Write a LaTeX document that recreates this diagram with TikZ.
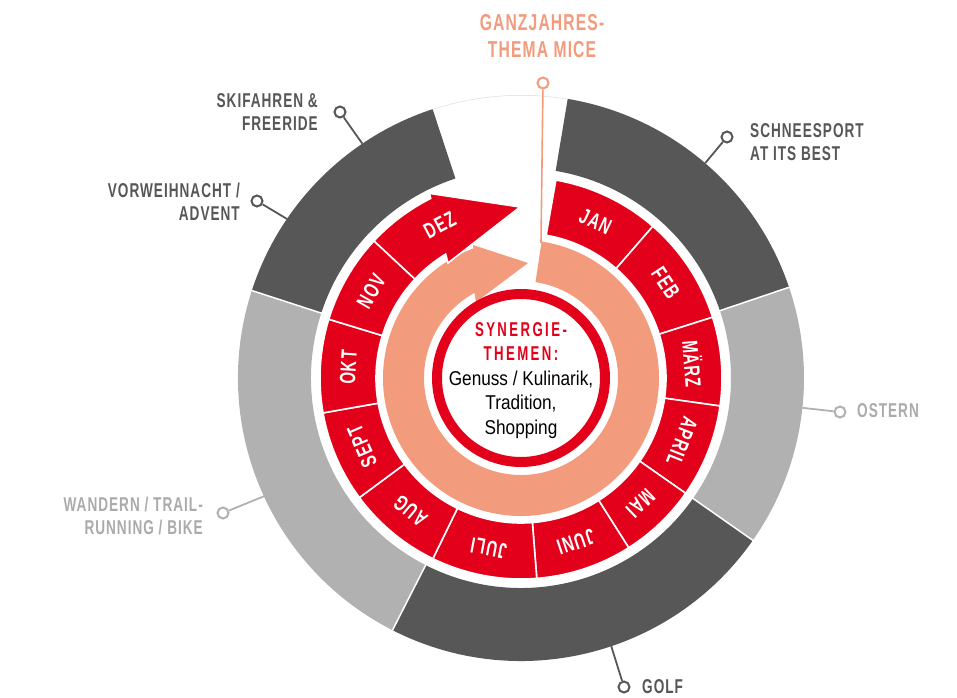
\documentclass[tikz,border=0pt]{standalone}
\usepackage{fontspec}
\newfontfamily\lblfont[FakeStretch=0.68,LetterSpace=5]{Liberation Sans}
\newfontfamily\monfont[FakeStretch=0.68,LetterSpace=6]{Liberation Sans}
\newfontfamily\hdfont[FakeStretch=0.66,LetterSpace=12]{Liberation Sans}
\newfontfamily\bodyfont[FakeStretch=0.86]{Liberation Sans}
\definecolor{dgray}{HTML}{575757}
\definecolor{lgray}{HTML}{B1B1B1}
\definecolor{lblgray}{HTML}{ABABAB}
\definecolor{mred}{HTML}{E2001A}
\definecolor{salmon}{HTML}{F29B7D}
\newcommand\annseg[5]{\fill[#1] (#2:#4pt) arc[start angle=#2,end angle=#3,radius=#4pt] -- (#3:#5pt) arc[start angle=#3,end angle=#2,radius=#5pt] -- cycle;}
\newcommand\monseg[2]{\filldraw[mred,draw=white,line width=1.6pt] (#1:201pt) arc[start angle=#1,end angle=#2,radius=201pt] -- (#2:145pt) arc[start angle=#2,end angle=#1,radius=145pt] -- cycle;}
\tikzset{
  lbl/.style={font=\lblfont\bfseries\fontsize{20}{23}\selectfont, inner sep=0pt},
  lblbig/.style={font=\lblfont\bfseries\fontsize{23}{27}\selectfont, inner sep=0pt},
  mon/.style={font=\monfont\bfseries\fontsize{22}{24}\selectfont, text=white, inner sep=0pt, anchor=center},
  mk/.style={circle, minimum size=11pt, inner sep=0pt, line width=2pt, fill=white, draw=#1},
  ptr/.style={line width=1.8pt, draw=#1},
}
\begin{document}
\begin{tikzpicture}
\useasboundingbox (-521pt,-319pt) rectangle (436pt,378pt);
\fill[white] (-521pt,-319pt) rectangle (436pt,378pt);
% outer ring
\annseg{dgray}{80.5}{18.7}{283}{210}
\annseg{lgray}{18.7}{-35}{283}{210}
\annseg{dgray}{-35}{-117}{283}{210}
\annseg{lgray}{-117}{-198}{283}{210}
\annseg{dgray}{162}{108.2}{283}{210}
\foreach \a in {18.7,-35,-117,162} \draw[white,line width=1.5pt] (\a:205pt) -- (\a:290pt);
\draw[lgray!45,line width=0.5pt] (108.2:282.7pt) arc[start angle=108.2,end angle=80.5,radius=282.7pt];
% salmon arrow
\fill[salmon] (81.4:138pt) arc[start angle=81.4,end angle=-249.8,radius=138pt] -- (-48pt,133pt) -- (7pt,115pt) -- (-45pt,76pt) -- (-241.35:97pt) arc[start angle=-241.35,end angle=81.4,radius=97pt] -- cycle;
% months
\monseg{80}{49}
\monseg{49}{17.6}
\monseg{17.6}{-8}
\monseg{-8}{-35}
\monseg{-35}{-57.6}
\monseg{-57.6}{-85.5}
\monseg{-85.5}{-116}
\monseg{-116}{-143.5}
\monseg{-143.5}{-170}
\monseg{-170}{-197}
\monseg{163}{137}
\filldraw[mred,draw=white,line width=1.6pt] (137:201pt) arc[start angle=137,end angle=116.7,radius=201pt] -- (-91.6pt,184.6pt) -- (-1pt,171pt) -- (-73pt,115pt) -- (121.3:145pt) arc[start angle=121.3,end angle=137,radius=145pt] -- cycle;
% month labels
\node[mon, rotate=-25.5] (jan) at (64.5:173pt) {JAN};
\node[mon, rotate=-56.7] (feb) at (33.3:173pt) {FEB};
\node[mon, rotate=-85.3] (mar) at (4.7:173pt) {MÄRZ};
\node[mon, rotate=-111.5] (apr) at (-21.5:173pt) {APRIL};
\node[mon, rotate=-136.3] (mai) at (-46.3:173pt) {MAI};
\node[mon, rotate=-161.5] (jun) at (-71.5:173pt) {JUNI};
\node[mon, rotate=-190.75] (jul) at (-100.75:173pt) {JULI};
\node[mon, rotate=-219.75] (aug) at (-129.75:173pt) {AUG};
\node[mon, rotate=-246.75] (sep) at (-156.75:173pt) {SEPT};
\node[mon, rotate=86.5] (okt) at (176.5:173pt) {OKT};
\node[mon, rotate=60] (nov) at (150:173pt) {NOV};
\node[mon, rotate=28] (dez) at (118:173pt) {DEZ};
% central circle
\filldraw[fill=white,draw=mred,line width=10pt] (0,0) circle[radius=84pt];
\node[align=center, anchor=north, inner sep=0pt, font=\fontsize{20}{24.5}\selectfont] (center) at (0pt,56pt)
  {{\hdfont\bfseries\color{mred}SYNERGIE-}\\{\hdfont\bfseries\color{mred}THEMEN:}\\{\bodyfont Genuss / Kulinarik,}\\{\bodyfont Tradition,}\\{\bodyfont Shopping}};
% labels
\node[lblbig, text=salmon, align=center, anchor=north] (micelbl) at (21pt,364pt) {GANZJAHRES-\\THEMA MICE};
\node[lbl, text=dgray, align=right, anchor=north east] (skilbl) at (-203pt,285pt) {SKIFAHREN \&\\FREERIDE};
\node[lbl, text=dgray, align=right, anchor=north east] (vorlbl) at (-281pt,195pt) {VORWEIHNACHT /\\ADVENT};
\node[lbl, text=dgray, align=left, anchor=north west] (schlbl) at (229pt,255pt) {SCHNEESPORT\\AT ITS BEST};
\node[lbl, text=lblgray, align=left, anchor=north west] (ostlbl) at (336pt,-25pt) {OSTERN};
\node[lbl, text=lblgray, align=right, anchor=north east] (wanlbl) at (-318pt,-119pt) {WANDERN / TRAIL-\\RUNNING / BIKE};
\node[lbl, text=dgray, align=left, anchor=north west] (golflbl) at (121pt,-301pt) {GOLF};
% pointers
\coordinate (emice) at (20pt,135pt);
\coordinate (eski) at (124.1:283pt);
\coordinate (evor) at (145.8:283pt);
\coordinate (esch) at (49.4:283pt);
\coordinate (eost) at (-6.05:283pt);
\coordinate (ewan) at (-155.3:283pt);
\coordinate (egolf) at (-71.4:283pt);
\node[mk=salmon] (mmice) at (22pt,295pt) {};
\node[mk=dgray] (mski) at (-181pt,266pt) {};
\node[mk=dgray] (mvor) at (-264pt,177pt) {};
\node[mk=dgray] (msch) at (206pt,241pt) {};
\node[mk=lgray] (most) at (319pt,-34pt) {};
\node[mk=lgray] (mwan) at (-298pt,-135pt) {};
\node[mk=dgray] (mgolf) at (103pt,-309pt) {};
\draw[ptr=salmon, line width=1.6pt] (mmice) -- (emice);
\draw[ptr=dgray] (mski) -- (eski);
\draw[ptr=dgray] (mvor) -- (evor);
\draw[ptr=dgray] (msch) -- (esch);
\draw[ptr=lgray] (most) -- (eost);
\draw[ptr=lgray] (mwan) -- (ewan);
\draw[ptr=dgray] (mgolf) -- (egolf);
\end{tikzpicture}
\end{document}
